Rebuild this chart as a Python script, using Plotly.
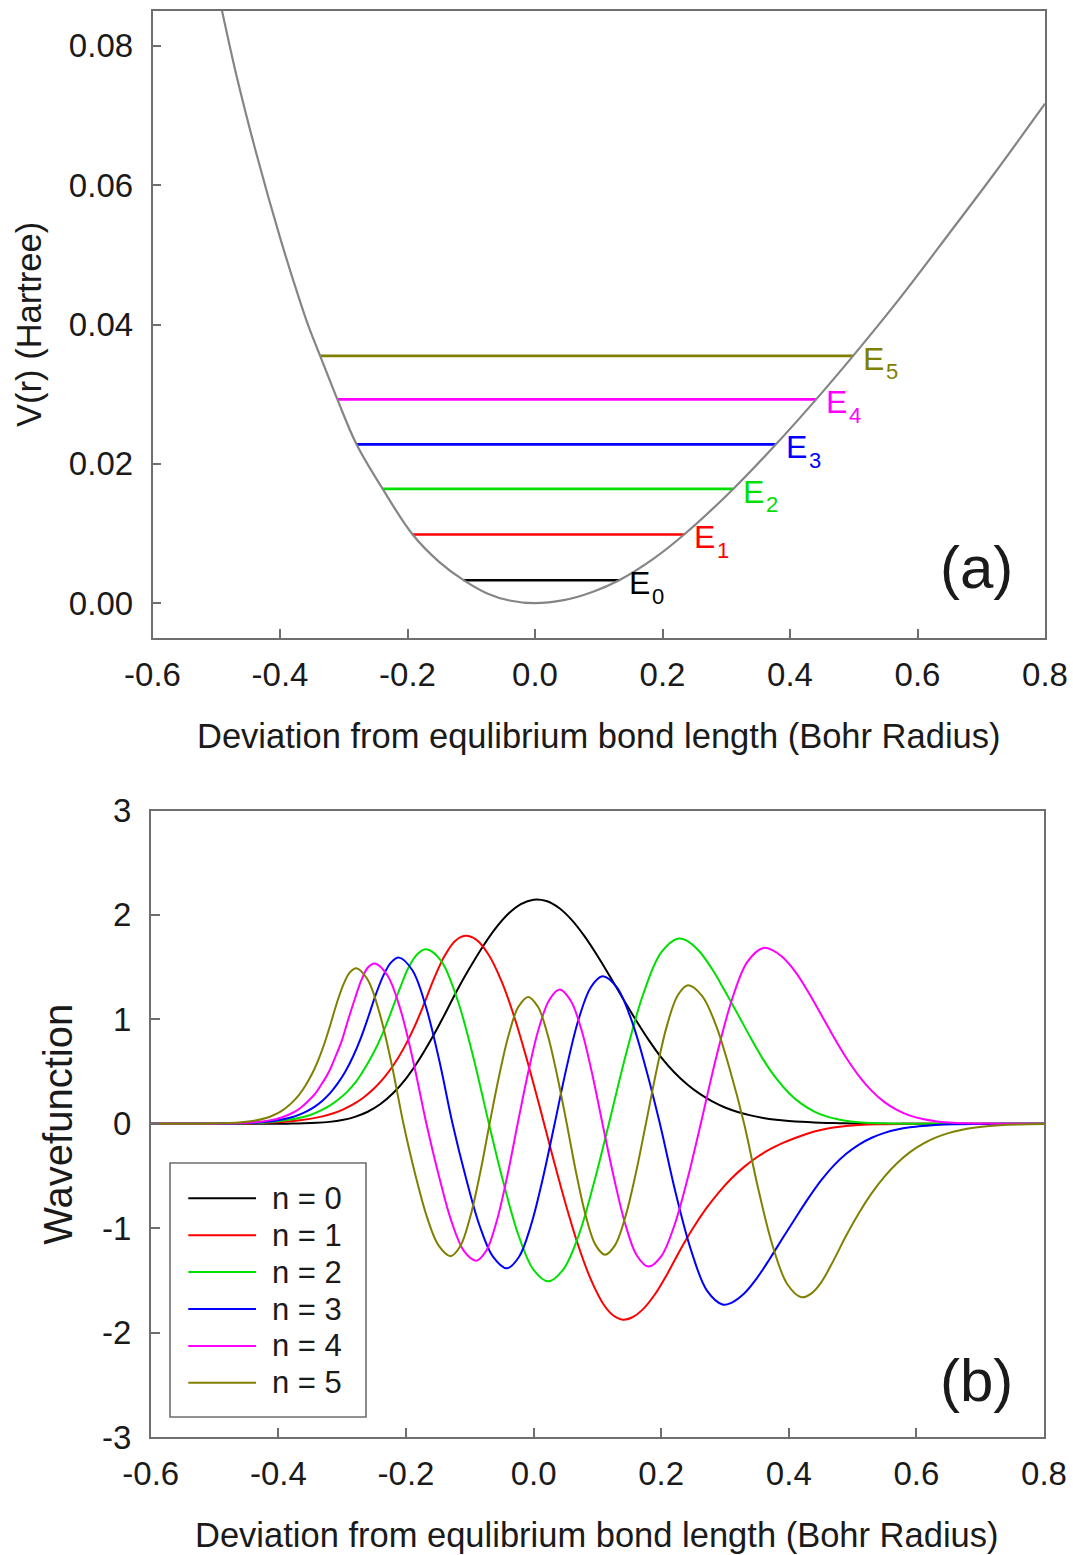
import plotly.graph_objects as go

W, H = 1073, 1555
FONT = "Liberation Sans, Arial, Helvetica, sans-serif"
FRAME = "#6e6e6e"
TEXT = "#1a1a1a"

# ---------------- panel (a): potential energy curve ----------------
pot_x = [-0.500, -0.489, -0.470, -0.437, -0.400, -0.371, -0.3555, -0.337, -0.310, -0.280,
         -0.239, -0.192, -0.150, -0.112, -0.075, -0.040, 0.000, 0.045, 0.090, 0.132,
         0.185, 0.234, 0.311, 0.378, 0.441, 0.499, 0.570, 0.650, 0.720, 0.800]
pot_v = [0.0888, 0.0842, 0.0764, 0.0645, 0.0525, 0.0440, 0.0398, 0.0355, 0.02925, 0.0228,
         0.0164, 0.00986, 0.0059, 0.0033, 0.00139, 0.00038, 0.0, 0.00043, 0.00161, 0.0033,
         0.00633, 0.00986, 0.0164, 0.0228, 0.02925, 0.0355, 0.0435, 0.0531, 0.0616, 0.0717]

level_digits = ["0", "1", "2", "3", "4", "5"]
level_E = [0.0033, 0.00986, 0.0164, 0.0228, 0.02925, 0.0355]
level_left = [-0.112, -0.192, -0.239, -0.280, -0.310, -0.337]
level_right = [0.132, 0.234, 0.311, 0.378, 0.441, 0.499]

colors = ["#000000", "#ff0000", "#00e000", "#0000ff", "#ff00ff", "#808000"]
names = ["n = 0", "n = 1", "n = 2", "n = 3", "n = 4", "n = 5"]

# ---------------- panel (b): wavefunctions ----------------
n0_x = [-0.60, -0.45, -0.40, -0.38, -0.36, -0.34, -0.32, -0.30, -0.28, -0.26, -0.24, -0.22,
        -0.20, -0.18, -0.16, -0.14, -0.12, -0.10, -0.08, -0.06, -0.04, -0.02, 0.00, 0.02,
        0.04, 0.06, 0.08, 0.10, 0.12, 0.14, 0.16, 0.18, 0.20, 0.22, 0.24, 0.26,
        0.28, 0.30, 0.32, 0.34, 0.36, 0.38, 0.40, 0.42, 0.44, 0.46, 0.48, 0.50,
        0.55, 0.60, 0.80]
n0_y = [0.0, 0.0, 0.0006, 0.0015, 0.0038, 0.0085, 0.018, 0.0355, 0.066, 0.115, 0.189, 0.294,
        0.433, 0.608, 0.813, 1.04, 1.277, 1.493, 1.693, 1.869, 2.009, 2.104, 2.146, 2.133,
        2.066, 1.950, 1.794, 1.609, 1.407, 1.199, 0.996, 0.806, 0.636, 0.496, 0.381, 0.288,
        0.214, 0.156, 0.113, 0.080, 0.056, 0.039, 0.027, 0.018, 0.012, 0.008, 0.005, 0.0035,
        0.001, 0.0, 0.0]

n1_x = [-0.60, -0.491, -0.427, -0.395, -0.363, -0.331, -0.315, -0.299, -0.283, -0.267, -0.251, -0.235,
        -0.219, -0.203, -0.187, -0.171, -0.155, -0.139, -0.123, -0.107, -0.09, -0.07, -0.05, -0.03,
        -0.01, 0.01, 0.03, 0.05, 0.07, 0.09, 0.11, 0.125, 0.14, 0.155, 0.17, 0.19,
        0.21, 0.23, 0.25, 0.27, 0.29, 0.31, 0.33, 0.35, 0.37, 0.39, 0.41, 0.43,
        0.45, 0.47, 0.49, 0.51, 0.54, 0.58, 0.62, 0.80]
n1_y = [0.0, 0.0013, 0.0074, 0.0164, 0.0349, 0.0706, 0.098, 0.136, 0.185, 0.249, 0.332, 0.437,
        0.567, 0.729, 0.925, 1.159, 1.406, 1.613, 1.751, 1.80, 1.763, 1.614, 1.361, 1.018,
        0.604, 0.152, -0.315, -0.764, -1.166, -1.495, -1.733, -1.836, -1.876, -1.853, -1.785, -1.635,
        -1.433, -1.206, -0.999, -0.816, -0.659, -0.525, -0.413, -0.321, -0.246, -0.186, -0.136, -0.093,
        -0.060, -0.037, -0.021, -0.0113, -0.004, -0.001, 0.0, 0.0]

n2_x = [-0.60, -0.499, -0.444, -0.416, -0.389, -0.361, -0.347, -0.334, -0.320, -0.306, -0.292, -0.278,
        -0.265, -0.251, -0.237, -0.223, -0.209, -0.196, -0.182, -0.168, -0.145, -0.119, -0.095, -0.070,
        -0.047, -0.023, 0.000, 0.023, 0.046, 0.070, 0.094, 0.118, 0.145, 0.172, 0.200, 0.227,
        0.240, 0.260, 0.280, 0.300, 0.320, 0.340, 0.360, 0.380, 0.400, 0.420, 0.440, 0.460,
        0.480, 0.500, 0.520, 0.550, 0.600, 0.800]
n2_y = [0.0, 0.0012, 0.0069, 0.0152, 0.0324, 0.0655, 0.0914, 0.126, 0.172, 0.232, 0.308, 0.406,
        0.526, 0.677, 0.859, 1.076, 1.305, 1.497, 1.626, 1.671, 1.56, 1.18, 0.65, 0.0,
        -0.57, -1.08, -1.40, -1.509, -1.40, -1.08, -0.58, 0.0, 0.67, 1.245, 1.641, 1.774,
        1.754, 1.650, 1.479, 1.270, 1.050, 0.825, 0.614, 0.436, 0.295, 0.190, 0.117, 0.068,
        0.038, 0.020, 0.010, 0.004, 0.0, 0.0]

n3_x = [-0.60, -0.499, -0.451, -0.427, -0.403, -0.379, -0.367, -0.355, -0.343, -0.331, -0.319, -0.307,
        -0.295, -0.283, -0.271, -0.259, -0.247, -0.235, -0.223, -0.211, -0.190, -0.169, -0.148, -0.127,
        -0.106, -0.085, -0.064, -0.042, -0.023, -0.004, 0.014, 0.033, 0.052, 0.071, 0.090, 0.108,
        0.130, 0.153, 0.176, 0.198, 0.223, 0.248, 0.272, 0.297, 0.310, 0.330, 0.350, 0.370,
        0.390, 0.410, 0.430, 0.450, 0.470, 0.490, 0.510, 0.530, 0.550, 0.570, 0.590, 0.610,
        0.630, 0.660, 0.700, 0.750, 0.800]
n3_y = [0.0, 0.0011, 0.0065, 0.0145, 0.031, 0.062, 0.087, 0.120, 0.164, 0.221, 0.294, 0.387,
        0.501, 0.644, 0.818, 1.025, 1.243, 1.426, 1.548, 1.591, 1.47, 1.125, 0.61, 0.0,
        -0.52, -0.97, -1.27, -1.384, -1.276, -0.97, -0.536, 0.0, 0.547, 1.01, 1.31, 1.412,
        1.31, 1.0, 0.53, 0.0, -0.67, -1.234, -1.60, -1.733, -1.715, -1.626, -1.478, -1.295,
        -1.099, -0.907, -0.720, -0.548, -0.403, -0.288, -0.199, -0.134, -0.087, -0.055, -0.034, -0.021,
        -0.012, -0.005, -0.002, 0.0, 0.0]

n4_x = [-0.60, -0.500, -0.458, -0.437, -0.416, -0.395, -0.385, -0.374, -0.364, -0.354, -0.343, -0.333,
        -0.322, -0.312, -0.301, -0.291, -0.280, -0.270, -0.260, -0.249, -0.229, -0.209, -0.188, -0.168,
        -0.148, -0.129, -0.109, -0.090, -0.074, -0.058, -0.041, -0.025, -0.008, 0.008, 0.025, 0.041,
        0.058, 0.075, 0.091, 0.108, 0.126, 0.144, 0.162, 0.180, 0.200, 0.221, 0.241, 0.262,
        0.286, 0.311, 0.335, 0.360, 0.375, 0.390, 0.410, 0.430, 0.450, 0.470, 0.490, 0.510,
        0.530, 0.550, 0.570, 0.590, 0.610, 0.630, 0.650, 0.680, 0.720, 0.760, 0.800]
n4_y = [0.0, 0.0011, 0.0063, 0.014, 0.030, 0.060, 0.084, 0.116, 0.158, 0.213, 0.283, 0.373,
        0.484, 0.622, 0.789, 0.989, 1.199, 1.375, 1.494, 1.535, 1.42, 1.10, 0.58, 0.0,
        -0.51, -0.93, -1.22, -1.311, -1.214, -0.937, -0.494, 0.0, 0.506, 0.91, 1.19, 1.285,
        1.18, 0.90, 0.50, 0.0, -0.52, -0.967, -1.264, -1.368, -1.27, -0.967, -0.535, 0.0,
        0.63, 1.19, 1.55, 1.684, 1.661, 1.596, 1.457, 1.267, 1.053, 0.835, 0.632, 0.457,
        0.315, 0.2075, 0.1305, 0.078, 0.045, 0.0245, 0.0128, 0.0044, 0.001, 0.0, 0.0]

n5_x = [-0.60, -0.518, -0.478, -0.458, -0.438, -0.418, -0.408, -0.398, -0.388, -0.378, -0.368, -0.358,
        -0.348, -0.338, -0.328, -0.318, -0.308, -0.298, -0.288, -0.278, -0.260, -0.241, -0.222, -0.204,
        -0.185, -0.167, -0.149, -0.130, -0.115, -0.0995, -0.084, -0.069, -0.054, -0.039, -0.024, -0.0085,
        0.007, 0.022, 0.037, 0.052, 0.067, 0.082, 0.097, 0.112, 0.128, 0.144, 0.160, 0.176,
        0.193, 0.209, 0.226, 0.242, 0.264, 0.286, 0.308, 0.330, 0.352, 0.375, 0.398, 0.420,
        0.435, 0.450, 0.470, 0.490, 0.510, 0.530, 0.550, 0.570, 0.590, 0.610, 0.630, 0.650,
        0.670, 0.690, 0.710, 0.730, 0.760, 0.800]
n5_y = [0.0, 0.001, 0.006, 0.0136, 0.029, 0.058, 0.0815, 0.112, 0.153, 0.207, 0.275, 0.362,
        0.469, 0.603, 0.766, 0.96, 1.164, 1.335, 1.45, 1.49, 1.38, 1.05, 0.556, 0.0,
        -0.497, -0.896, -1.165, -1.268, -1.174, -0.896, -0.478, 0.0, 0.46, 0.853, 1.118, 1.215,
        1.118, 0.853, 0.46, 0.0, -0.48, -0.887, -1.16, -1.255, -1.16, -0.887, -0.48, 0.0,
        0.52, 0.94, 1.23, 1.326, 1.225, 0.94, 0.51, 0.0, -0.62, -1.175, -1.54, -1.662,
        -1.627, -1.526, -1.311, -1.071, -0.854, -0.665, -0.506, -0.376, -0.272, -0.1925, -0.133, -0.0897,
        -0.059, -0.038, -0.0238, -0.0146, -0.0067, -0.002]

# ---------------- ticks ----------------
x_tickvals = [-0.6, -0.4, -0.2, 0.0, 0.2, 0.4, 0.6, 0.8]
x_ticktext = ["-0.6", "-0.4", "-0.2", "0.0", "0.2", "0.4", "0.6", "0.8"]
ya_tickvals = [0.0, 0.02, 0.04, 0.06, 0.08]
ya_ticktext = ["0.00", "0.02", "0.04", "0.06", "0.08"]
yb_tickvals = [-3, -2, -1, 0, 1, 2, 3]
yb_ticktext = ["-3", "-2", "-1", "0", "1", "2", "3"]

x_title = "Deviation from equlibrium bond length (Bohr Radius)"

wave_x = [n0_x, n1_x, n2_x, n3_x, n4_x, n5_x]
wave_y = [n0_y, n1_y, n2_y, n3_y, n4_y, n5_y]

fig = go.Figure()

# energy levels
for i in range(len(level_E)):
    fig.add_trace(go.Scatter(
        x=[level_left[i], level_right[i]], y=[level_E[i], level_E[i]],
        mode="lines", line=dict(color=colors[i], width=2.6),
        xaxis="x", yaxis="y", showlegend=False, hoverinfo="skip",
        name="E" + level_digits[i]))

# potential curve
fig.add_trace(go.Scatter(
    x=pot_x, y=pot_v, mode="lines",
    line=dict(color="#858585", width=2.2, shape="spline", smoothing=1.0),
    xaxis="x", yaxis="y", showlegend=False, name="V(r)"))

# wavefunctions
for i in range(6):
    fig.add_trace(go.Scatter(
        x=wave_x[i], y=wave_y[i], mode="lines",
        line=dict(color=colors[i], width=2.0, shape="spline", smoothing=1.0),
        xaxis="x2", yaxis="y2", showlegend=False, name=names[i]))

axis_common = dict(
    showline=True, linecolor=FRAME, linewidth=1.6, mirror=True,
    ticks="inside", ticklen=9, tickwidth=1.5, tickcolor=FRAME,
    showgrid=False, zeroline=False, automargin=False,
    tickfont=dict(family=FONT, size=33, color=TEXT),
    tickmode="array",
)

fig.update_layout(
    width=W, height=H, autosize=False,
    margin=dict(l=0, r=0, t=0, b=0, pad=0, autoexpand=False),
    paper_bgcolor="white", plot_bgcolor="white",
    font=dict(family=FONT, color=TEXT),
    showlegend=False,
    xaxis=dict(axis_common, domain=[152.5 / W, 1045 / W], range=[-0.6, 0.8],
               tickvals=x_tickvals, ticktext=x_ticktext, anchor="y", ticklabelstandoff=7),
    yaxis=dict(axis_common, domain=[1 - 638 / H, 1 - 11 / H], range=[-0.005, 0.085],
               tickvals=ya_tickvals, ticktext=ya_ticktext, anchor="x", ticklabelstandoff=11),
    xaxis2=dict(axis_common, domain=[150.8 / W, 1044 / W], range=[-0.6, 0.8],
                tickvals=x_tickvals, ticktext=x_ticktext, anchor="y2", ticklabelstandoff=7),
    yaxis2=dict(axis_common, domain=[1 - 1437 / H, 1 - 810.5 / H], range=[-3, 3],
                tickvals=yb_tickvals, ticktext=yb_ticktext, anchor="x2", ticklabelstandoff=11),
)

ann = []
# axis titles
ann.append(dict(text=x_title, x=598.75 / W, y=1 - 736 / H, xref="paper", yref="paper",
                xanchor="center", yanchor="middle", showarrow=False,
                font=dict(family=FONT, size=34.5, color=TEXT)))
ann.append(dict(text=x_title, x=597.4 / W, y=1 - 1535 / H, xref="paper", yref="paper",
                xanchor="center", yanchor="middle", showarrow=False,
                font=dict(family=FONT, size=34.5, color=TEXT)))
ann.append(dict(text="V(r) (Hartree)", x=29.4 / W, y=1 - 324.5 / H, xref="paper", yref="paper",
                xanchor="center", yanchor="middle", showarrow=False, textangle=-90,
                font=dict(family=FONT, size=34.5, color=TEXT)))
ann.append(dict(text="Wavefunction", x=57.9 / W, y=1 - 1123.8 / H, xref="paper", yref="paper",
                xanchor="center", yanchor="middle", showarrow=False, textangle=-90,
                font=dict(family=FONT, size=40, color=TEXT)))
# panel labels
ann.append(dict(text="(a)", x=976 / W, y=1 - 567 / H, xref="paper", yref="paper",
                xanchor="center", yanchor="middle", showarrow=False,
                font=dict(family=FONT, size=60, color=TEXT)))
ann.append(dict(text="(b)", x=976 / W, y=1 - 1380 / H, xref="paper", yref="paper",
                xanchor="center", yanchor="middle", showarrow=False,
                font=dict(family=FONT, size=60, color=TEXT)))
# energy level labels: "E" plus a smaller subscript digit
for i in range(len(level_E)):
    ann.append(dict(text="E", x=level_right[i], y=level_E[i], xref="x", yref="y",
                    xanchor="left", yanchor="middle", xshift=8, yshift=-3, showarrow=False,
                    font=dict(family=FONT, size=32, color=colors[i])))
    ann.append(dict(text=level_digits[i], x=level_right[i], y=level_E[i], xref="x", yref="y",
                    xanchor="left", yanchor="middle", xshift=31, yshift=-16, showarrow=False,
                    font=dict(family=FONT, size=22, color=colors[i])))

# legend (box with sample lines and labels)
shapes = []
leg_x0, leg_x1, leg_y0, leg_y1 = 170, 366, 1163, 1417
shapes.append(dict(type="rect", xref="paper", yref="paper",
                   x0=leg_x0 / W, x1=leg_x1 / W, y0=1 - leg_y1 / H, y1=1 - leg_y0 / H,
                   line=dict(color=FRAME, width=1.6), fillcolor="white", layer="above"))
row0, row_step = 1198.3, 36.9
for i in range(6):
    yy = 1 - (row0 + i * row_step) / H
    shapes.append(dict(type="line", xref="paper", yref="paper",
                       x0=188.3 / W, x1=256 / W, y0=yy, y1=yy,
                       line=dict(color=colors[i], width=2.0), layer="above"))
    ann.append(dict(text=names[i], x=270 / W, y=yy, xref="paper", yref="paper",
                    xanchor="left", yanchor="middle", showarrow=False,
                    font=dict(family=FONT, size=31, color=TEXT)))

fig.update_layout(annotations=ann, shapes=shapes)
fig.write_html("out.html")
